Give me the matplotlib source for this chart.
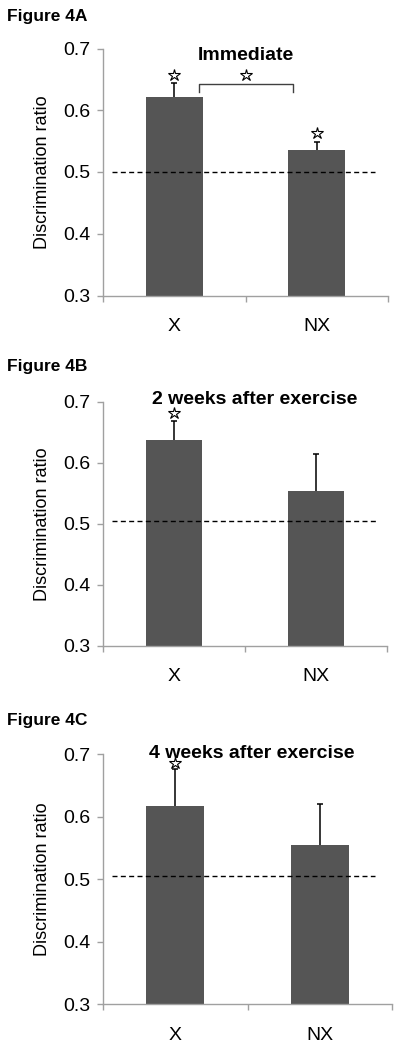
import matplotlib
matplotlib.use("Agg")
import matplotlib.pyplot as plt

plt.rcParams['font.family'] = ['Liberation Sans', 'DejaVu Sans']

categories = ["X", "NX"]
panel_labels = ["Figure 4A", "Figure 4B", "Figure 4C"]
titles = ["Immediate", "2 weeks after exercise", "4 weeks after exercise"]
means_A = [0.622, 0.536]
errs_A = [0.022, 0.013]
means_B = [0.638, 0.554]
errs_B = [0.030, 0.060]
means_C = [0.617, 0.555]
errs_C = [0.060, 0.065]
chance_levels = [0.500, 0.504, 0.506]
yticks = [0.3, 0.4, 0.5, 0.6, 0.7]
# significance stars (category x, y)
stars_A = [(0, 0.657), (1, 0.563), (0.5, 0.657)]
stars_B = [(0, 0.682)]
stars_C = [(0, 0.6865)]
bracket_A = (0.174, 0.833, 0.6425, 0.630)

means = [means_A, means_B, means_C]
errs = [errs_A, errs_B, errs_C]
stars = [stars_A, stars_B, stars_C]

fig = plt.figure(figsize=(4.0, 10.47), dpi=100)
W, H = 400, 1047
# axes boxes in pixels: left, right, top, bottom
boxes = [(103, 388, 48.5, 295.5), (103, 387, 401.7, 646), (103, 392, 754.3, 1004.3)]
title_pos = [(0.5, 0.689), (0.57, 0.703), (0.53, 0.702)]
dash_ext = [(-0.44, 1.41), (-0.44, 1.42), (-0.44, 1.38)]
fig_label_y = [16, 367, 720]

spine_col = '#a0a0a0'
bar_col = '#555555'

for i in range(3):
    l, r, t, b = boxes[i]
    ax = fig.add_axes([l / W, 1 - b / H, (r - l) / W, (b - t) / H])
    xs = list(range(len(categories)))
    ax.bar(xs, means[i], width=0.4, color=bar_col, zorder=2)
    ax.errorbar(xs, means[i], yerr=[[0, 0], errs[i]], fmt='none', ecolor='black',
                elinewidth=1.1, capsize=0, zorder=1.5)
    tops = [m + e for m, e in zip(means[i], errs[i])]
    ax.plot(xs, tops, marker='_', ms=5, mew=1.1, color='black',
            linestyle='none', zorder=3)
    x0, x1 = dash_ext[i]
    ax.plot([x0, x1], [chance_levels[i]] * 2, color='black', lw=1.0,
            dashes=(3.6, 2.4), zorder=4)
    for (sx, sy) in stars[i]:
        ax.plot(sx, sy, marker='*', ms=9, mfc='white', mec='black', mew=0.8,
                linestyle='none', zorder=5, clip_on=False)
    if i == 0:
        bl, br, by, bd = bracket_A
        ax.plot([bl, bl, br, br], [bd, by, by, bd], color='#404040', lw=1.0, zorder=4)
    tx, ty = title_pos[i]
    ax.text(tx, ty, titles[i], ha='center', va='center', fontsize=14,
            fontweight='bold', zorder=1)
    ax.set_xlim(-0.5, 1.5)
    ax.set_ylim(0.3, 0.7)
    ax.set_yticks(yticks)
    ax.set_yticklabels([f"{v:.1f}" for v in yticks])
    ax.set_xticks(xs)
    ax.set_xticklabels(categories)
    ax.set_xticks([-0.5, 0.5, 1.5], minor=True)
    ax.tick_params(axis='x', which='major', length=0, pad=16, labelsize=14)
    ax.tick_params(axis='x', which='minor', length=4, color=spine_col, width=1)
    ax.tick_params(axis='y', length=4, color=spine_col, width=1, pad=5, labelsize=14)
    for s in ['top', 'right']:
        ax.spines[s].set_visible(False)
    for s in ['left', 'bottom']:
        ax.spines[s].set_color(spine_col)
        ax.spines[s].set_linewidth(1.0)
    ax.set_ylabel("Discrimination ratio", fontsize=13, labelpad=9)
    fig.text(7 / W, 1 - fig_label_y[i] / H, panel_labels[i], fontsize=12.5,
             fontweight='bold', ha='left', va='center')

fig.savefig("out.png", dpi=100)
